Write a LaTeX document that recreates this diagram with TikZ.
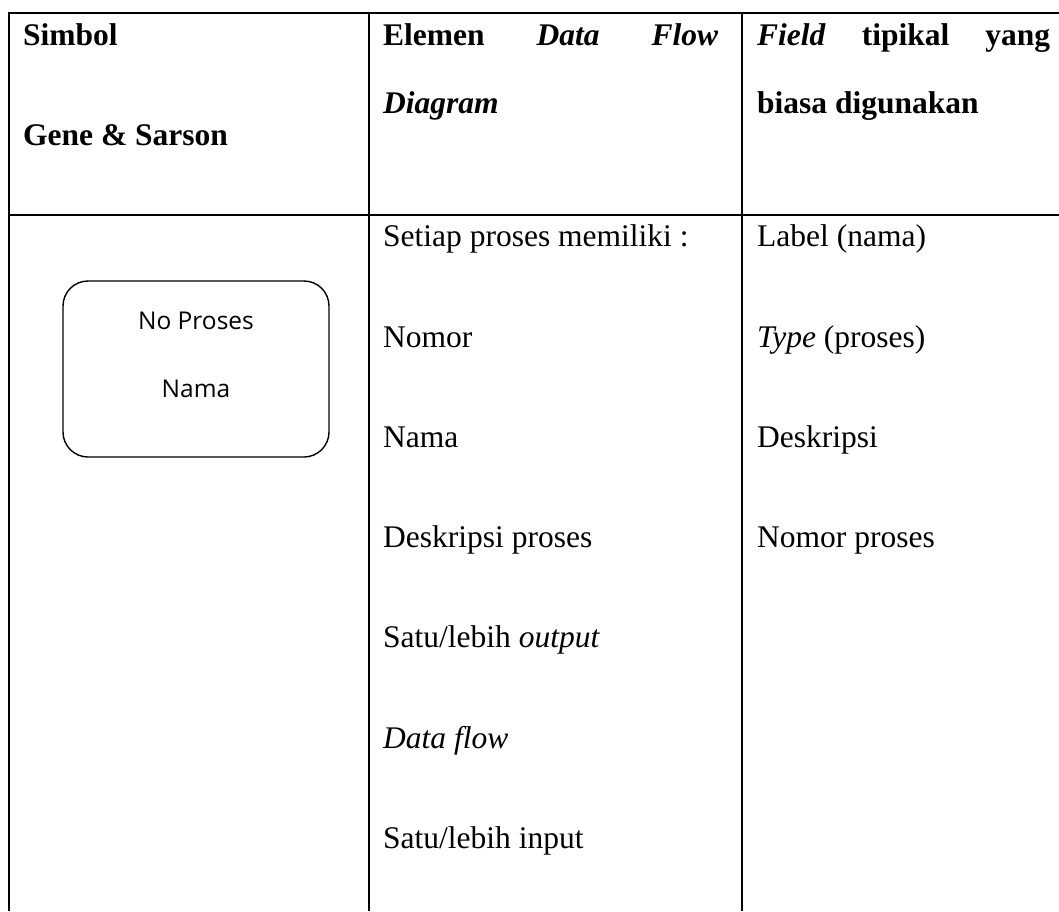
\documentclass[tikz,border=0pt]{standalone}
\usepackage{fontspec}
\setmainfont{Liberation Serif}
\newfontfamily\boxfont{Open Sans}
\begin{document}
\begin{tikzpicture}[x=1pt,y=-1pt,
  rule/.style={line width=2pt},
  cell/.style={anchor=base west, inner sep=0pt, font=\fontsize{31.5}{36}\selectfont},
  head/.style={cell, font=\fontsize{31.5}{36}\selectfont\bfseries},
  procbox/.style={draw, line width=1.4pt, rounded corners=25pt, minimum width=266pt, minimum height=176pt, inner sep=0pt},
  boxtext/.style={anchor=base, inner sep=0pt, font=\boxfont\fontsize{24.5}{28}\selectfont}]
\useasboundingbox (0,0) rectangle (1059,911);
% table rules
\draw[rule] (9,911) -- (9,13) -- (1059,13);
\draw[rule] (9,215) -- (1059,215);
\draw[rule] (369,13) -- (369,911);
\draw[rule] (742,13) -- (742,911);
% header
\node[head] (h1a) at (23,45) {Simbol};
\node[head] (h1b) at (23,145) {Gene \& Sarson};
\node[head] (h2a) at (383,45) {\hbox to 335pt{Elemen\hfill\textit{Data}\hfill\textit{Flow}}};
\node[head] (h2b) at (383,113) {\textit{Diagram}};
\node[head] (h3a) at (757,45) {\hbox to 293pt{\textit{Field}\hfill tipikal\hfill yang}};
\node[head] (h3b) at (757,113) {biasa digunakan};
% symbol
\node[procbox] (proc) at (196,369) {};
\node[boxtext] (pno) at (196,329) {No Proses};
\node[boxtext] (pnama) at (196,397) {Nama};
% column 2
\node[cell] (c2a) at (383,246) {Setiap proses memiliki :};
\node[cell] (c2b) at (383,347) {Nomor};
\node[cell] (c2c) at (383,447) {Nama};
\node[cell] (c2d) at (383,547) {Deskripsi proses};
\node[cell] (c2e) at (383,647) {Satu/lebih \textit{output}};
\node[cell] (c2f) at (383,748) {\textit{Data flow}};
\node[cell] (c2g) at (383,848) {Satu/lebih input};
% column 3
\node[cell] (c3a) at (757,246) {Label (nama)};
\node[cell] (c3b) at (757,347) {\textit{Type} (proses)};
\node[cell] (c3c) at (757,447) {Deskripsi};
\node[cell] (c3d) at (757,547) {Nomor proses};
\end{tikzpicture}
\end{document}
